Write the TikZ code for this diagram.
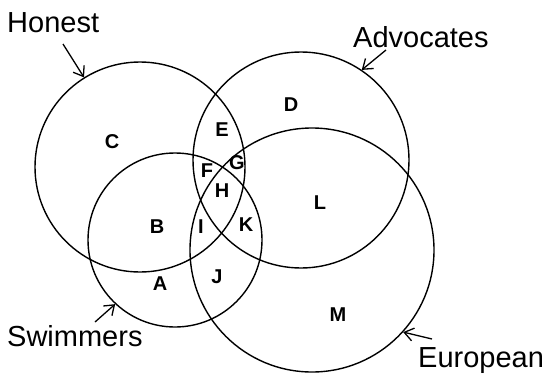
\documentclass[tikz,border=0pt]{standalone}
\usepackage{fontspec}
\setmainfont{Liberation Sans}
\usetikzlibrary{arrows.meta}
\tikzset{
  setring/.style={circle,draw,line width=1.4pt,minimum size=#1,inner sep=0pt},
  region/.style={font=\bfseries\fontsize{20}{20}\selectfont,inner sep=0pt},
  title/.style={font=\fontsize{29}{29}\selectfont,anchor=base west,inner sep=0pt},
  pointer/.style={-{Straight Barb[length=9pt,width=13pt,line width=1.3pt]},line width=1.3pt}
}
\begin{document}
\begin{tikzpicture}[x=1pt,y=-1pt]
\useasboundingbox[fill=white] (0,0) rectangle (545,375);

% Four sets
\node[setring=210pt] (honest) at (140,167) {};
\node[setring=216pt] (advocates) at (301,160) {};
\node[setring=174pt] (swimmers) at (175,240) {};
\node[setring=244pt] (european) at (312,250) {};

% Region letters
\node[region] (C) at (112,142) {C};
\node[region] (D) at (291,105) {D};
\node[region] (E) at (222,130) {E};
\node[region] (F) at (207,171) {F};
\node[region] (G) at (237,163) {G};
\node[region] (H) at (222,191) {H};
\node[region] (L) at (320,203) {L};
\node[region] (B) at (157,227) {B};
\node[region] (I) at (201,227) {I};
\node[region] (K) at (246,225) {K};
\node[region] (A) at (160,284) {A};
\node[region] (J) at (217,277) {J};
\node[region] (M) at (338,315) {M};

% Set names
\node[title] (thonest) at (7,32) {Honest};
\node[title] (tadvocates) at (353,47) {Advocates};
\node[title] (tswimmers) at (7,346) {Swimmers};
\node[title] (teuropean) at (418,367) {European};

% Pointers
\coordinate (phonest) at (63,44);
\coordinate (padvocates) at (386,50);
\coordinate (pswimmers) at (95,322);
\coordinate (peuropean) at (432,339);
\draw[pointer] (phonest) -- (honest.122);
\draw[pointer] (padvocates) -- (advocates.56);
\draw[pointer] (pswimmers) -- (swimmers.227);
\draw[pointer] (peuropean) -- (european.318);
\end{tikzpicture}
\end{document}
